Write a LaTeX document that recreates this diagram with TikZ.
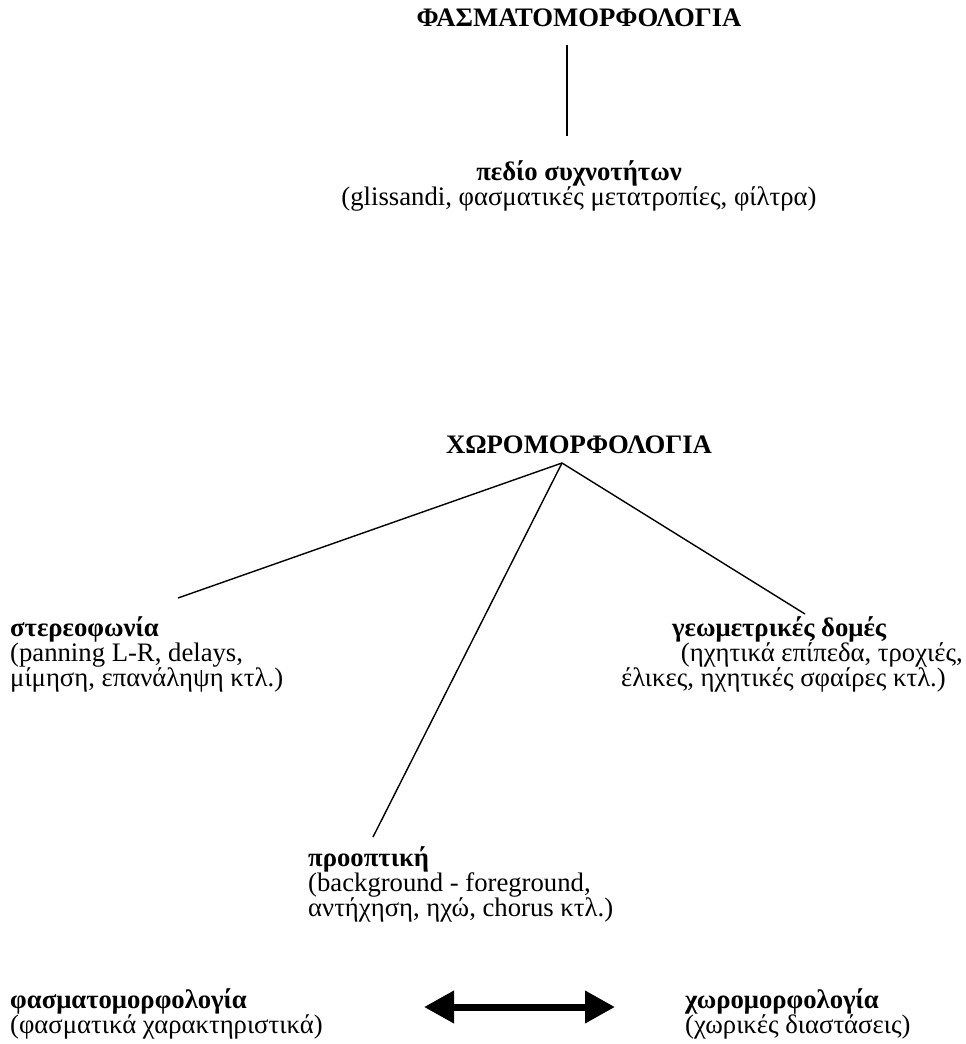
\documentclass[tikz,border=0pt]{standalone}
\usepackage{fontspec}
\setmainfont{Liberation Serif}
\usetikzlibrary{arrows.meta}
\begin{document}
\begin{tikzpicture}[x=1pt,y=-1pt,
  txt/.style={inner sep=0pt,font=\fontsize{26.7}{25}\selectfont},
  hd/.style={txt,font=\fontsize{26.7}{25}\selectfont\bfseries},
  conn/.style={line width=1.4pt},
  dbl/.style={line width=7pt,{Triangle[length=30pt,width=31pt]}-{Triangle[length=30pt,width=31pt]}}]
\useasboundingbox (0,0) rectangle (966,1044);
% top
\node[hd,anchor=base] (fasma) at (579,27) {ΦΑΣΜΑΤΟΜΟΡΦΟΛΟΓΙΑ};
\node[hd,anchor=base] (pedio) at (579,180) {πεδίο συχνοτήτων};
\node[txt,anchor=base] (pedio2) at (579,205) {(glissandi, φασματικές μετατροπίες, φίλτρα)};
\coordinate (vtop) at (567,45);
\coordinate (vbot) at (567,136);
\draw[conn] (vtop) -- (vbot);
% middle
\node[hd,anchor=base] (xoro) at (579,453) {ΧΩΡΟΜΟΡΦΟΛΟΓΙΑ};
\coordinate (apex) at (562,463);
\node[hd,anchor=base west] (stereo) at (10,636) {στερεοφωνία};
\node[txt,anchor=base west] (stereo2) at (10,661) {(panning L-R, delays,};
\node[txt,anchor=base west] (stereo3) at (10,686) {μίμηση, επανάληψη κτλ.)};
\node[hd,anchor=base west] (geo) at (672,636) {γεωμετρικές δομές};
\node[txt,anchor=base east] (geo2) at (963,661) {(ηχητικά επίπεδα, τροχιές,};
\node[txt,anchor=base east] (geo3) at (946,686) {έλικες, ηχητικές σφαίρες κτλ.)};
\node[hd,anchor=base west] (pro) at (308,866) {προοπτική};
\node[txt,anchor=base west] (pro2) at (308,891) {(background - foreground,};
\node[txt,anchor=base west] (pro3) at (308,916) {αντήχηση, ηχώ, chorus κτλ.)};
\coordinate (eL) at (178,598);
\coordinate (eM) at (373,837);
\coordinate (eR) at (805,614);
\draw[conn] (apex) -- (eL);
\draw[conn] (apex) -- (eM);
\draw[conn] (apex) -- (eR);
% bottom
\node[hd,anchor=base west] (fm) at (10,1008) {φασματομορφολογία};
\node[txt,anchor=base west] (fm2) at (10,1033) {(φασματικά χαρακτηριστικά)};
\node[hd,anchor=base west] (xm) at (685,1008) {χωρομορφολογία};
\node[txt,anchor=base west] (xm2) at (685,1033) {(χωρικές διαστάσεις)};
\coordinate (aL) at (424,1007);
\coordinate (aR) at (615,1007);
\draw[dbl] (aL) -- (aR);
\end{tikzpicture}
\end{document}
